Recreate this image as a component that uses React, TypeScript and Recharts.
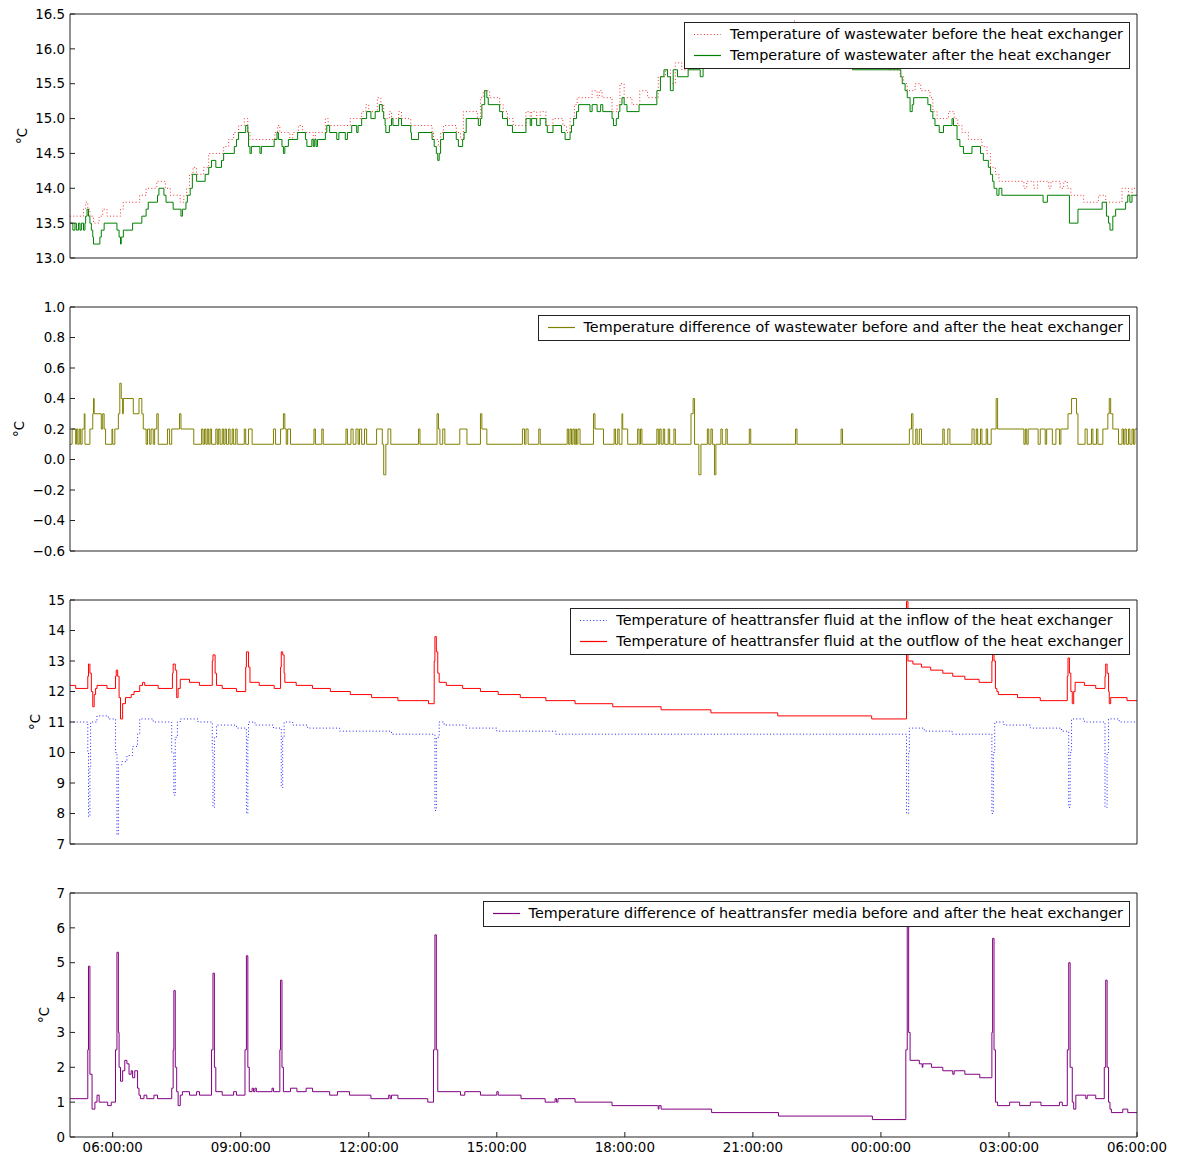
import React from 'react';
import { LineChart, Line, XAxis, YAxis, Legend } from 'recharts';

const FONT = '"DejaVu Sans", "Bitstream Vera Sans", sans-serif';

// x values are minutes after 05:00, the record runs until 06:00 the next day
const xTicks = [6, 9, 12, 15, 18, 21, 24, 27, 30];

const wasteBefore = [
  [0, 13.6], [19, 13.7], [22, 13.8], [25, 13.7], [28, 13.6], [33, 13.5], [41, 13.6], [46, 13.7], [52, 13.6],
  [71, 13.7], [75, 13.8], [98, 13.9], [107, 14.0], [122, 14.1], [134, 14.0], [141, 13.9], [155, 13.8], [160, 13.9],
  [164, 14.0], [168, 14.2], [173, 14.3], [178, 14.2], [188, 14.3], [195, 14.5], [216, 14.6], [223, 14.7], [230, 14.8],
  [237, 14.9], [245, 15.0], [250, 14.8], [253, 14.7], [288, 14.8], [292, 14.9], [295, 14.8], [309, 14.7], [313, 14.8],
  [321, 14.9], [327, 14.8], [342, 14.7], [345, 14.8], [359, 15.0], [363, 14.9], [394, 15.0], [410, 15.1], [416, 15.2],
  [420, 15.1], [432, 15.3], [437, 15.2], [441, 15.0], [449, 15.1], [452, 15.0], [462, 15.1], [466, 15.0], [479, 14.9],
  [509, 14.8], [511, 14.7], [518, 14.6], [521, 14.8], [525, 14.9], [543, 14.8], [549, 14.7], [553, 15.1], [573, 15.0],
  [577, 15.3], [581, 15.4], [590, 15.3], [604, 15.2], [609, 15.1], [615, 15.0], [623, 14.9], [641, 15.1], [647, 15.0],
  [649, 15.1], [656, 15.0], [661, 15.1], [669, 14.9], [679, 15.0], [693, 14.9], [698, 14.8], [703, 15.0], [709, 15.2],
  [713, 15.3], [734, 15.4], [741, 15.3], [744, 15.4], [748, 15.3], [762, 15.1], [769, 15.2], [773, 15.5], [779, 15.3],
  [790, 15.2], [801, 15.4], [812, 15.3], [827, 15.6], [837, 15.7], [844, 15.5], [851, 15.8], [860, 15.7], [870, 15.9],
  [1000, 16.0], [1018, 16.4], [1021, 16.0], [1060, 15.9], [1100, 15.8], [1150, 15.7], [1167, 15.6], [1172, 15.5],
  [1177, 15.4], [1188, 15.5], [1196, 15.4], [1209, 15.3], [1213, 15.1], [1219, 15.0], [1235, 15.1], [1243, 15.0],
  [1248, 14.9], [1254, 14.8], [1263, 14.7], [1282, 14.6], [1289, 14.5], [1294, 14.3], [1301, 14.2], [1306, 14.1],
  [1341, 14.0], [1345, 14.1], [1355, 14.0], [1360, 14.1], [1376, 14.0], [1379, 14.1], [1392, 14.0], [1397, 14.1],
  [1402, 14.0], [1407, 13.9], [1425, 13.8], [1446, 13.9], [1456, 13.8], [1479, 14.0], [1488, 13.9], [1493, 14.0],
  [1500, 14.0],
];

const wasteAfter = [
  [0, 13.5], [4, 13.4], [7, 13.5], [9, 13.4], [12, 13.5], [14, 13.4], [16, 13.5], [19, 13.4], [21, 13.5], [22, 13.6],
  [24, 13.7], [26, 13.6], [28, 13.5], [30, 13.4], [32, 13.3], [33, 13.2], [42, 13.3], [44, 13.4], [48, 13.5], [66, 13.4],
  [69, 13.3], [71, 13.2], [72, 13.3], [75, 13.4], [88, 13.5], [101, 13.6], [107, 13.7], [110, 13.8], [123, 13.9],
  [125, 14.0], [132, 13.9], [135, 13.8], [145, 13.7], [156, 13.6], [158, 13.7], [163, 13.8], [165, 13.9], [169, 14.0],
  [172, 14.2], [178, 14.1], [190, 14.2], [195, 14.3], [199, 14.4], [205, 14.3], [213, 14.4], [216, 14.5], [231, 14.6],
  [234, 14.7], [237, 14.8], [247, 14.9], [250, 14.8], [251, 14.6], [253, 14.5], [255, 14.6], [267, 14.5], [269, 14.6],
  [287, 14.7], [291, 14.8], [293, 14.7], [298, 14.6], [300, 14.5], [302, 14.6], [307, 14.7], [320, 14.8], [331, 14.7],
  [333, 14.6], [340, 14.7], [342, 14.6], [344, 14.7], [346, 14.6], [348, 14.7], [359, 14.8], [361, 14.9], [365, 14.8],
  [375, 14.7], [378, 14.8], [387, 14.7], [390, 14.8], [396, 14.9], [403, 14.8], [405, 14.9], [410, 15.0], [417, 15.1],
  [423, 15.0], [429, 15.1], [435, 15.2], [439, 15.1], [441, 15.0], [443, 14.9], [444, 14.8], [449, 14.9], [452, 15.0],
  [454, 14.9], [462, 15.0], [466, 14.9], [479, 14.8], [480, 14.7], [490, 14.8], [509, 14.7], [512, 14.6], [515, 14.5],
  [517, 14.4], [519, 14.5], [521, 14.7], [525, 14.8], [543, 14.7], [546, 14.6], [552, 14.7], [554, 14.8], [557, 15.0],
  [574, 14.9], [577, 15.0], [579, 15.2], [583, 15.4], [586, 15.3], [588, 15.2], [604, 15.1], [608, 15.0], [615, 14.9],
  [622, 14.8], [641, 15.0], [647, 14.9], [649, 15.0], [656, 14.9], [661, 15.0], [669, 14.9], [671, 14.8], [679, 14.9],
  [691, 14.8], [696, 14.7], [703, 14.8], [705, 14.9], [708, 15.0], [712, 15.1], [715, 15.2], [731, 15.1], [734, 15.2],
  [741, 15.1], [746, 15.2], [749, 15.1], [762, 15.0], [764, 14.9], [768, 15.0], [771, 15.1], [773, 15.2], [776, 15.3],
  [779, 15.2], [783, 15.1], [800, 15.2], [825, 15.4], [830, 15.6], [835, 15.7], [840, 15.6], [844, 15.4], [848, 15.7],
  [854, 15.6], [869, 15.7], [886, 15.6], [890, 15.8], [1000, 15.9], [1030, 15.8], [1100, 15.7], [1168, 15.6],
  [1170, 15.5], [1174, 15.4], [1177, 15.3], [1181, 15.1], [1184, 15.2], [1186, 15.3], [1206, 15.2], [1210, 15.1],
  [1213, 15.0], [1216, 14.9], [1222, 14.8], [1228, 14.9], [1240, 15.0], [1242, 14.9], [1247, 14.7], [1251, 14.6],
  [1256, 14.5], [1268, 14.6], [1280, 14.5], [1284, 14.4], [1291, 14.3], [1294, 14.2], [1297, 14.1], [1299, 14.0],
  [1303, 13.9], [1306, 14.0], [1310, 13.9], [1368, 13.8], [1374, 13.9], [1405, 13.5], [1417, 13.7], [1451, 13.8],
  [1457, 13.6], [1460, 13.5], [1462, 13.4], [1466, 13.6], [1470, 13.7], [1484, 13.8], [1487, 13.9], [1490, 13.8],
  [1493, 13.9], [1500, 13.9],
];

const wasteDiff = [
  [0, 0.1], [3, 0.2], [8, 0.1], [9, 0.2], [11, 0.1], [13, 0.2], [15, 0.1], [17, 0.2], [20, 0.3], [21, 0.1], [28, 0.2],
  [32, 0.3], [33, 0.4], [34, 0.3], [44, 0.2], [46, 0.3], [48, 0.2], [50, 0.1], [59, 0.2], [60, 0.1], [63, 0.2], [68, 0.3],
  [70, 0.5], [72, 0.4], [74, 0.3], [75, 0.4], [89, 0.3], [97, 0.4], [101, 0.3], [103, 0.2], [107, 0.1], [109, 0.2],
  [112, 0.1], [114, 0.2], [117, 0.1], [119, 0.2], [122, 0.3], [124, 0.1], [137, 0.2], [140, 0.1], [143, 0.2], [154, 0.3],
  [156, 0.2], [174, 0.1], [185, 0.2], [187, 0.1], [189, 0.2], [191, 0.1], [193, 0.2], [195, 0.1], [197, 0.2], [199, 0.1],
  [205, 0.2], [207, 0.1], [209, 0.2], [211, 0.1], [214, 0.2], [216, 0.1], [218, 0.2], [220, 0.1], [223, 0.2], [225, 0.1],
  [228, 0.2], [230, 0.1], [233, 0.2], [235, 0.1], [245, 0.2], [247, 0.1], [251, 0.2], [256, 0.1], [286, 0.2], [289, 0.1],
  [296, 0.2], [300, 0.3], [302, 0.2], [304, 0.1], [306, 0.2], [310, 0.1], [343, 0.2], [345, 0.1], [354, 0.2], [356, 0.1],
  [388, 0.2], [390, 0.1], [395, 0.2], [398, 0.1], [402, 0.2], [405, 0.1], [407, 0.2], [410, 0.1], [414, 0.2], [417, 0.1],
  [431, 0.2], [439, 0.1], [441, -0.1], [444, 0.1], [447, 0.2], [451, 0.1], [490, 0.2], [492, 0.1], [516, 0.3], [518, 0.2],
  [520, 0.1], [524, 0.2], [527, 0.1], [548, 0.2], [558, 0.1], [577, 0.3], [579, 0.2], [586, 0.1], [636, 0.2], [639, 0.1],
  [641, 0.2], [644, 0.1], [659, 0.2], [661, 0.1], [699, 0.2], [701, 0.1], [703, 0.2], [705, 0.1], [707, 0.2], [709, 0.1],
  [711, 0.2], [712, 0.1], [714, 0.2], [717, 0.1], [736, 0.3], [738, 0.2], [750, 0.1], [765, 0.2], [767, 0.1], [770, 0.2],
  [772, 0.1], [776, 0.3], [777, 0.2], [784, 0.1], [798, 0.2], [800, 0.1], [802, 0.2], [804, 0.1], [825, 0.2], [827, 0.1],
  [829, 0.2], [831, 0.1], [834, 0.2], [836, 0.1], [841, 0.2], [843, 0.1], [849, 0.2], [851, 0.1], [873, 0.3], [876, 0.4],
  [878, 0.1], [884, -0.1], [887, 0.1], [896, 0.2], [898, 0.1], [901, 0.2], [903, 0.1], [906, -0.1], [908, 0.1], [915, 0.2],
  [917, 0.1], [922, 0.2], [924, 0.1], [955, 0.2], [957, 0.1], [1020, 0.2], [1022, 0.1], [1084, 0.2], [1086, 0.1],
  [1180, 0.2], [1183, 0.3], [1185, 0.1], [1189, 0.2], [1191, 0.1], [1194, 0.2], [1197, 0.1], [1227, 0.2], [1229, 0.1],
  [1234, 0.2], [1237, 0.1], [1268, 0.2], [1271, 0.1], [1274, 0.2], [1276, 0.1], [1280, 0.2], [1282, 0.1], [1288, 0.2],
  [1290, 0.1], [1295, 0.2], [1302, 0.4], [1304, 0.2], [1341, 0.1], [1343, 0.2], [1345, 0.1], [1347, 0.2], [1361, 0.1],
  [1364, 0.2], [1371, 0.1], [1373, 0.2], [1381, 0.1], [1386, 0.2], [1391, 0.1], [1393, 0.2], [1403, 0.3], [1408, 0.4],
  [1415, 0.3], [1417, 0.1], [1427, 0.2], [1430, 0.1], [1436, 0.2], [1438, 0.1], [1443, 0.2], [1445, 0.1], [1452, 0.2],
  [1459, 0.3], [1461, 0.4], [1463, 0.3], [1466, 0.2], [1474, 0.1], [1479, 0.2], [1481, 0.1], [1483, 0.2], [1485, 0.1],
  [1488, 0.2], [1490, 0.1], [1493, 0.2], [1495, 0.1], [1497, 0.2], [1500, 0.2],
];

const fluidIn = [
  [0, 11.0], [25, 10.0], [26, 7.9], [28, 9.5], [29, 11.0], [38, 11.2], [54, 11.1], [64, 10.0], [66, 7.3], [68, 9.6],
  [73, 9.7], [80, 9.9], [88, 10.2], [95, 10.6], [98, 11.1], [117, 11.0], [143, 10.0], [146, 8.6], [148, 10.5], [151, 11.0],
  [155, 11.1], [180, 11.0], [200, 10.0], [201, 8.2], [203, 10.5], [206, 10.9], [234, 10.8], [248, 8.0], [250, 10.5],
  [251, 11.0], [260, 10.9], [286, 10.8], [297, 8.85], [299, 10.5], [301, 11.0], [313, 10.9], [334, 10.8], [379, 10.7],
  [452, 10.6], [513, 8.1], [515, 10.5], [519, 11.0], [526, 10.9], [557, 10.8], [600, 10.7], [683, 10.6], [1176, 8.0],
  [1179, 10.0], [1180, 10.8], [1201, 10.7], [1240, 10.6], [1296, 8.0], [1298, 10.0], [1300, 11.0], [1313, 10.9],
  [1350, 10.8], [1394, 10.7], [1404, 8.2], [1406, 10.0], [1408, 11.1], [1426, 11.0], [1455, 8.2], [1458, 10.0],
  [1460, 11.1], [1475, 11.0], [1500, 11.0],
];

const fluidOut = [
  [0, 12.2], [8, 12.1], [25, 12.5], [26, 12.9], [28, 12.6], [30, 12.0], [32, 11.5], [34, 11.9], [36, 12.1], [38, 12.2],
  [52, 12.1], [64, 12.5], [65, 12.7], [67, 12.5], [69, 11.8], [71, 11.1], [74, 11.6], [78, 11.8], [86, 11.9], [90, 12.0],
  [98, 12.2], [102, 12.3], [105, 12.2], [124, 12.1], [144, 12.6], [145, 12.9], [148, 12.7], [150, 11.8], [152, 12.1],
  [155, 12.4], [168, 12.3], [182, 12.2], [200, 13.0], [201, 13.2], [204, 12.6], [206, 12.2], [214, 12.1], [234, 12.0],
  [247, 12.8], [248, 13.3], [251, 12.8], [253, 12.3], [266, 12.2], [287, 12.1], [296, 12.8], [297, 13.3], [299, 13.2],
  [301, 12.6], [302, 12.3], [318, 12.2], [341, 12.1], [366, 12.0], [394, 11.9], [424, 11.8], [461, 11.7], [504, 11.6],
  [512, 13.0], [513, 13.8], [515, 13.3], [517, 12.6], [519, 12.3], [529, 12.2], [552, 12.1], [577, 12.0], [602, 11.9],
  [633, 11.8], [669, 11.7], [710, 11.6], [763, 11.5], [831, 11.4], [901, 11.3], [995, 11.2], [1127, 11.1], [1176, 14.95],
  [1178, 13.0], [1185, 12.9], [1197, 12.8], [1210, 12.7], [1227, 12.6], [1241, 12.5], [1258, 12.4], [1278, 12.3],
  [1296, 13.0], [1297, 13.7], [1299, 13.0], [1301, 12.1], [1303, 12.0], [1305, 11.9], [1332, 11.8], [1364, 11.7],
  [1402, 12.5], [1403, 13.1], [1405, 12.6], [1407, 12.0], [1409, 11.6], [1411, 12.0], [1413, 12.3], [1426, 12.2],
  [1442, 12.1], [1455, 12.5], [1456, 12.9], [1458, 12.6], [1460, 12.0], [1461, 11.6], [1463, 11.8], [1486, 11.7],
  [1500, 11.7],
];

const fluidDiff = [
  [0, 1.1], [25, 2.5], [26, 4.9], [28, 1.8], [31, 0.8], [35, 1.0], [38, 1.2], [41, 1.0], [53, 0.9], [58, 1.0], [64, 2.5],
  [66, 5.3], [68, 3.0], [69, 2.0], [71, 1.6], [74, 1.9], [77, 2.2], [80, 2.1], [83, 1.8], [86, 1.9], [88, 1.7], [91, 1.9],
  [95, 1.4], [97, 1.2], [99, 1.1], [104, 1.2], [108, 1.1], [118, 1.2], [123, 1.1], [143, 1.4], [145, 2.5], [146, 4.2],
  [148, 2.0], [150, 1.3], [152, 0.9], [155, 1.2], [158, 1.3], [168, 1.2], [178, 1.3], [182, 1.2], [199, 2.5], [201, 4.7],
  [203, 2.0], [205, 1.3], [214, 1.2], [230, 1.3], [234, 1.2], [246, 2.5], [248, 5.2], [250, 2.0], [252, 1.3], [256, 1.4],
  [258, 1.3], [260, 1.4], [262, 1.3], [284, 1.4], [286, 1.3], [295, 2.5], [296, 4.5], [298, 2.0], [300, 1.3], [310, 1.4],
  [319, 1.3], [332, 1.4], [341, 1.3], [365, 1.2], [376, 1.3], [393, 1.2], [423, 1.1], [448, 1.2], [450, 1.1], [452, 1.2],
  [461, 1.1], [503, 1.0], [511, 2.5], [513, 5.8], [515, 2.5], [517, 1.3], [549, 1.2], [555, 1.3], [577, 1.2], [600, 1.3],
  [602, 1.2], [634, 1.1], [668, 1.0], [682, 1.1], [684, 1.0], [686, 1.1], [710, 1.0], [762, 0.9], [827, 0.8], [828, 0.9],
  [831, 0.8], [902, 0.7], [996, 0.6], [1128, 0.5], [1175, 2.5], [1177, 6.1], [1179, 3.0], [1181, 2.2], [1194, 2.1],
  [1198, 2.0], [1199, 2.1], [1211, 2.0], [1227, 1.9], [1241, 1.8], [1243, 1.9], [1258, 1.8], [1279, 1.7], [1296, 3.0],
  [1297, 5.7], [1299, 2.5], [1301, 1.0], [1304, 0.9], [1321, 1.0], [1335, 0.9], [1350, 1.0], [1365, 0.9], [1391, 1.0],
  [1395, 0.9], [1402, 2.5], [1404, 5.0], [1406, 2.0], [1409, 1.0], [1411, 0.8], [1414, 1.2], [1428, 1.1], [1430, 1.2],
  [1442, 1.1], [1454, 2.0], [1456, 4.5], [1458, 2.0], [1460, 1.0], [1462, 0.8], [1464, 0.7], [1480, 0.8], [1487, 0.7],
  [1500, 0.7],
];

const ticksWaste = [13.0, 13.5, 14.0, 14.5, 15.0, 15.5, 16.0, 16.5];
const ticksWasteDiff = [-0.6, -0.4, -0.2, 0.0, 0.2, 0.4, 0.6, 0.8, 1.0];
const ticksFluid = [7, 8, 9, 10, 11, 12, 13, 14, 15];
const ticksFluidDiff = [0, 1, 2, 3, 4, 5, 6, 7];

const fmtTime = (h: number) => `${String(h % 24).padStart(2, '0')}:00:00`;
const fmtOne = (v: number) => v.toFixed(1).replace('-', '\u2212');
const fmtInt = (v: number) => String(v);

const toPoints = (pairs: number[][]) => pairs.map(([m, v]) => ({ t: 5 + m / 60, v }));

type Series = { name: string; data: number[][]; color: string; dash?: string };

const tickStyle = { fill: '#000', fontSize: 13.4, fontFamily: FONT };

const Panel = ({ series, domain, ticks, fmt, labelX, showTime, height }: {
  series: Series[]; domain: number[]; ticks: number[]; fmt: (v: number) => string;
  labelX: number; showTime: boolean; height: number;
}) => {
  const legend = () => (
    <div style={{ border: '1px solid #222', background: '#fff', padding: '1px 6px 2px 9px', fontFamily: FONT, fontSize: 14.35, lineHeight: '21px', color: '#000' }}>
      {series.map((s) => (
        <div key={s.name} style={{ display: 'flex', alignItems: 'center', whiteSpace: 'nowrap' }}>
          <svg width={27} height={21} style={{ marginRight: 9, flex: 'none' }}>
            <line x1={0} x2={27} y1={10.5} y2={10.5} stroke={s.color} strokeWidth={1.2} strokeDasharray={s.dash} />
          </svg>
          <span>{s.name}</span>
        </div>
      ))}
    </div>
  );

  const degLabel = (p: any) => {
    const vb = p.viewBox;
    const cy = vb.y + vb.height / 2;
    return (
      <text x={labelX} y={cy} transform={`rotate(-90 ${labelX} ${cy})`} textAnchor="middle" dominantBaseline="central" fontFamily={FONT} fontSize={13.4} fill="#000">
        °C
      </text>
    );
  };

  return (
    <LineChart width={1184} height={height} margin={{ top: 0, right: 0, bottom: 0, left: 0 }}>
      <XAxis xAxisId="b" type="number" dataKey="t" domain={[5, 30]} ticks={xTicks} allowDataOverflow interval={0}
        height={height - 258} stroke="#222" tickSize={-5} tickMargin={10}
        tick={showTime ? tickStyle : false} tickFormatter={fmtTime} />
      <XAxis xAxisId="t" orientation="top" type="number" domain={[5, 30]} ticks={xTicks} allowDataOverflow interval={0}
        height={14} stroke="#222" tickSize={-5} tick={false} />
      <YAxis yAxisId="l" type="number" domain={domain} ticks={ticks} allowDataOverflow interval={0} width={70}
        stroke="#222" tickSize={-5} tickMargin={10} tick={tickStyle} tickFormatter={fmt} label={degLabel} />
      <YAxis yAxisId="r" orientation="right" type="number" domain={domain} ticks={ticks} allowDataOverflow interval={0}
        width={47} stroke="#222" tickSize={-5} tick={false} />
      <Legend layout="vertical" align="center" verticalAlign="middle" content={legend}
        wrapperStyle={{ top: 22, right: 54, left: 'auto', bottom: 'auto', width: 'auto', height: 'auto' }} />
      {series.map((s) => (
        <Line key={s.name} xAxisId="b" yAxisId="l" data={toPoints(s.data)} dataKey="v" name={s.name} type="stepAfter"
          stroke={s.color} strokeWidth={1} strokeDasharray={s.dash} dot={false} activeDot={false} isAnimationActive={false} />
      ))}
    </LineChart>
  );
};

const panel1: Series[] = [
  { name: 'Temperature of wastewater before the heat exchanger', data: wasteBefore, color: '#f03030', dash: '1 2.3' },
  { name: 'Temperature of wastewater after the heat exchanger', data: wasteAfter, color: '#008000' },
];
const panel2: Series[] = [
  { name: 'Temperature difference of wastewater before and after the heat exchanger', data: wasteDiff, color: '#808000' },
];
const panel3: Series[] = [
  { name: 'Temperature of heattransfer fluid at the inflow of the heat exchanger', data: fluidIn, color: '#2020ff', dash: '1 2.3' },
  { name: 'Temperature of heattransfer fluid at the outflow of the heat exchanger', data: fluidOut, color: '#ff0000' },
];
const panel4: Series[] = [
  { name: 'Temperature difference of heattransfer media before and after the heat exchanger', data: fluidDiff, color: '#800080' },
];

export default function App() {
  return (
    <div style={{ position: 'absolute', left: 0, top: 0, width: 1184, height: 1158, background: '#fff' }}>
      <div style={{ position: 'absolute', left: 0, top: 0 }}>
        <Panel series={panel1} domain={[13, 16.5]} ticks={ticksWaste} fmt={fmtOne} labelX={22} showTime={false} height={293} />
      </div>
      <div style={{ position: 'absolute', left: 0, top: 293 }}>
        <Panel series={panel2} domain={[-0.6, 1.0]} ticks={ticksWasteDiff} fmt={fmtOne} labelX={19} showTime={false} height={293} />
      </div>
      <div style={{ position: 'absolute', left: 0, top: 586 }}>
        <Panel series={panel3} domain={[7, 15]} ticks={ticksFluid} fmt={fmtInt} labelX={35} showTime={false} height={293} />
      </div>
      <div style={{ position: 'absolute', left: 0, top: 879 }}>
        <Panel series={panel4} domain={[0, 7]} ticks={ticksFluidDiff} fmt={fmtInt} labelX={44} showTime={true} height={279} />
      </div>
    </div>
  );
}
